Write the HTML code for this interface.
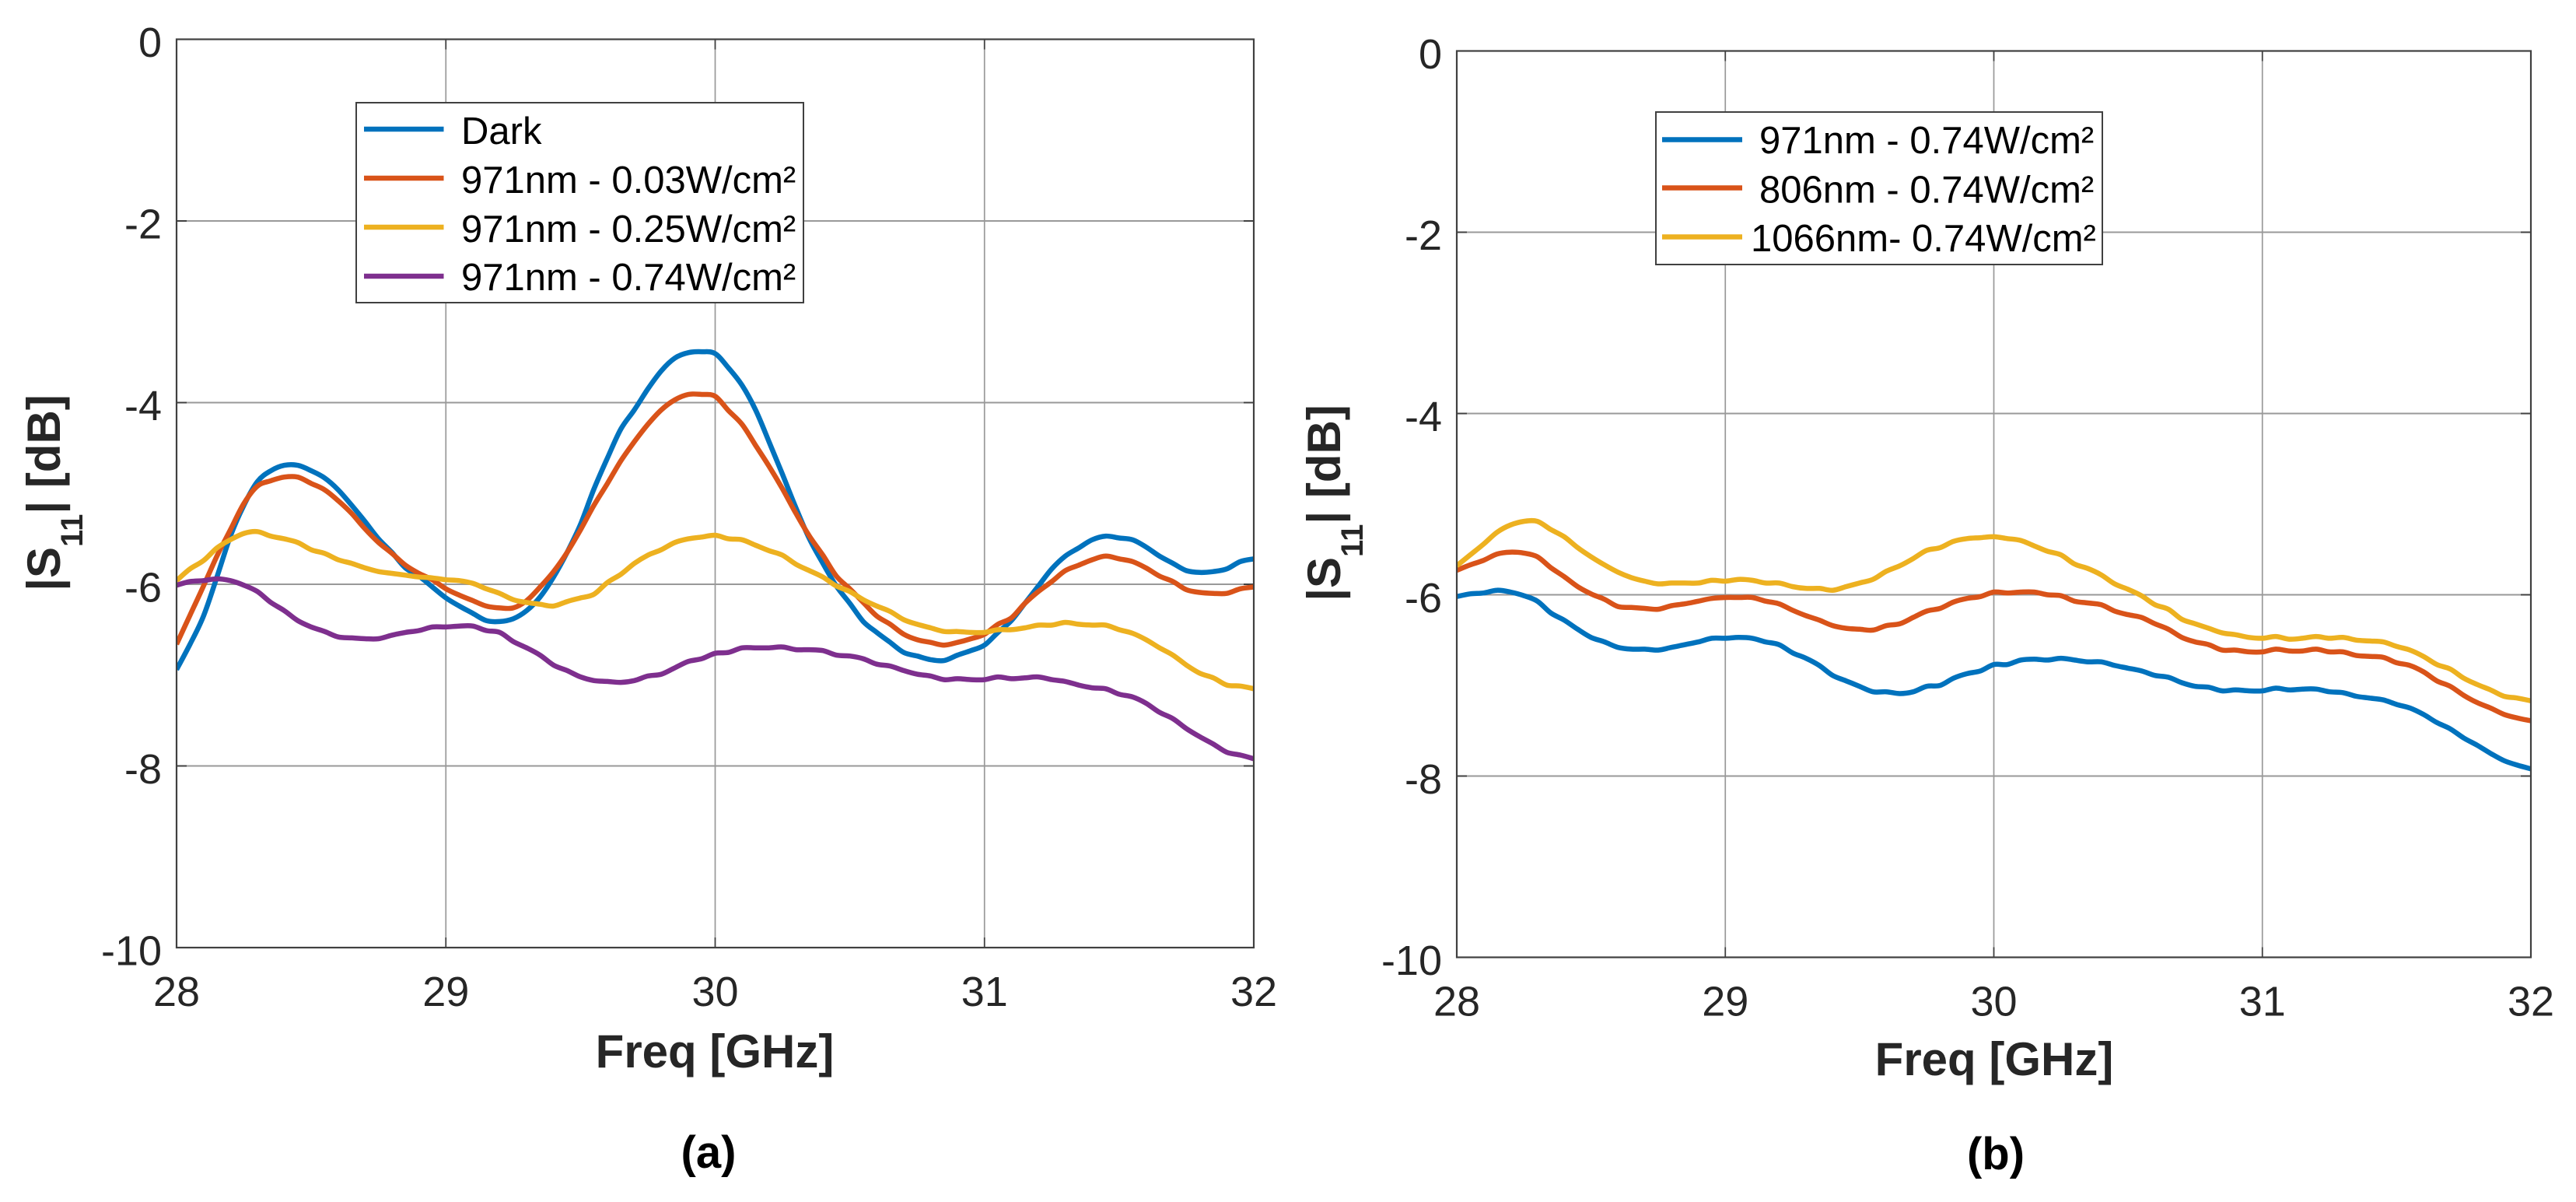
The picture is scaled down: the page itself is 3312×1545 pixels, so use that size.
<!DOCTYPE html>
<html lang="en">
<head>
<meta charset="utf-8">
<title>S11 versus frequency</title>
<style>
html,body{margin:0;padding:0;background:#fff;}
svg{display:block;}
text{font-family:"Liberation Sans",Arial,sans-serif;}
.tick{font-size:54px;fill:#262626;}
.axis-title{font-size:60px;font-weight:bold;fill:#262626;}
.legend-text{font-size:49px;fill:#000;}
.panel-label{font-size:58px;font-weight:bold;fill:#000;}
</style>
</head>
<body>
<svg id="figure" xmlns="http://www.w3.org/2000/svg" width="3312" height="1545" viewBox="0 0 3312 1545">
  <rect x="0" y="0" width="3312" height="1545" fill="#ffffff"/>
  <defs>
    <clipPath id="clip-a"><rect x="227" y="50.5" width="1385" height="1167.5"/></clipPath>
    <clipPath id="clip-b"><rect x="1873" y="65.5" width="1381" height="1165"/></clipPath>
  </defs>
  <g id="panel-a"></g>
  <g id="panel-b"></g>

  <g>
    <text class="axis-title" x="919" y="1372" text-anchor="middle">Freq [GHz]</text>
    <text class="axis-title" transform="translate(77,633.5) rotate(-90)" text-anchor="middle">|S<tspan font-size="40" dy="29">11</tspan><tspan dy="-29">| [dB]</tspan></text>
    <text class="panel-label" x="911" y="1501" text-anchor="middle">(a)</text>
  </g>
  <g>
    <rect x="458" y="132" width="575" height="257" fill="#ffffff" stroke="#404040" stroke-width="2"/>
    <line x1="468" x2="570.5" y1="166" y2="166" stroke="#0072BD" stroke-width="6.5"/>
    <text class="legend-text" x="593" y="185">Dark</text>
    <line x1="468" x2="570.5" y1="229" y2="229" stroke="#D95319" stroke-width="6.5"/>
    <text class="legend-text" x="593" y="248">971nm - 0.03W/cm²</text>
    <line x1="468" x2="570.5" y1="292" y2="292" stroke="#EDB120" stroke-width="6.5"/>
    <text class="legend-text" x="593" y="311">971nm - 0.25W/cm²</text>
    <line x1="468" x2="570.5" y1="355" y2="355" stroke="#7E2F8E" stroke-width="6.5"/>
    <text class="legend-text" x="593" y="373">971nm - 0.74W/cm²</text>
  </g>

  <g>
    <text class="axis-title" x="2564" y="1382" text-anchor="middle">Freq [GHz]</text>
    <text class="axis-title" transform="translate(1723,646.5) rotate(-90)" text-anchor="middle">|S<tspan font-size="40" dy="29">11</tspan><tspan dy="-29">| [dB]</tspan></text>
    <text class="panel-label" x="2566" y="1503" text-anchor="middle">(b)</text>
  </g>
  <g>
    <rect x="2129" y="144" width="574" height="196" fill="#ffffff" stroke="#404040" stroke-width="2"/>
    <line x1="2137" x2="2240" y1="179.5" y2="179.5" stroke="#0072BD" stroke-width="6.5"/>
    <text class="legend-text" x="2262" y="197">971nm - 0.74W/cm²</text>
    <line x1="2137" x2="2240" y1="241.5" y2="241.5" stroke="#D95319" stroke-width="6.5"/>
    <text class="legend-text" x="2262" y="260.5">806nm - 0.74W/cm²</text>
    <line x1="2137" x2="2240" y1="304.5" y2="304.5" stroke="#EDB120" stroke-width="6.5"/>
    <text class="legend-text" x="2251" y="323">1066nm- 0.74W/cm²</text>
  </g>
</svg>
<script>
const freqGHz = [
  28.00,28.05,28.10,28.15,28.20,28.25,28.30,28.35,28.40,28.45,
  28.50,28.55,28.60,28.65,28.70,28.75,28.80,28.85,28.90,28.95,
  29.00,29.05,29.10,29.15,29.20,29.25,29.30,29.35,29.40,29.45,
  29.50,29.55,29.60,29.65,29.70,29.75,29.80,29.85,29.90,29.95,
  30.00,30.05,30.10,30.15,30.20,30.25,30.30,30.35,30.40,30.45,
  30.50,30.55,30.60,30.65,30.70,30.75,30.80,30.85,30.90,30.95,
  31.00,31.05,31.10,31.15,31.20,31.25,31.30,31.35,31.40,31.45,
  31.50,31.55,31.60,31.65,31.70,31.75,31.80,31.85,31.90,31.95,
  32.00];
const xTickValues = [28, 29, 30, 31, 32];
const xTickLabels = ["28", "29", "30", "31", "32"];
const yTickValues = [0, -2, -4, -6, -8, -10];
const yTickLabels = ["0", "-2", "-4", "-6", "-8", "-10"];

const darkA = [
  -6.94,-6.66,-6.35,-5.92,-5.47,-5.13,-4.87,-4.75,-4.69,-4.69,
  -4.75,-4.83,-4.96,-5.13,-5.31,-5.50,-5.65,-5.82,-5.91,-6.03,
  -6.15,-6.24,-6.32,-6.40,-6.41,-6.38,-6.29,-6.14,-5.92,-5.65,
  -5.34,-4.95,-4.61,-4.29,-4.08,-3.85,-3.65,-3.51,-3.45,-3.44,
  -3.46,-3.62,-3.81,-4.08,-4.43,-4.79,-5.16,-5.50,-5.77,-6.02,
  -6.21,-6.41,-6.53,-6.64,-6.75,-6.79,-6.83,-6.84,-6.78,-6.73,
  -6.67,-6.53,-6.40,-6.21,-6.02,-5.83,-5.69,-5.60,-5.51,-5.47,
  -5.49,-5.51,-5.59,-5.69,-5.77,-5.85,-5.87,-5.86,-5.83,-5.75,
  -5.72];
const w003A = [
  -6.66,-6.34,-6.02,-5.69,-5.40,-5.11,-4.92,-4.86,-4.82,-4.82,
  -4.89,-4.96,-5.08,-5.22,-5.39,-5.54,-5.66,-5.79,-5.88,-5.95,
  -6.05,-6.12,-6.18,-6.24,-6.26,-6.26,-6.18,-6.03,-5.86,-5.65,
  -5.40,-5.13,-4.89,-4.64,-4.43,-4.24,-4.08,-3.97,-3.91,-3.91,
  -3.93,-4.09,-4.24,-4.47,-4.70,-4.95,-5.22,-5.47,-5.68,-5.91,
  -6.05,-6.20,-6.35,-6.44,-6.55,-6.61,-6.64,-6.67,-6.64,-6.60,
  -6.55,-6.44,-6.37,-6.21,-6.08,-5.97,-5.85,-5.79,-5.73,-5.69,
  -5.72,-5.75,-5.82,-5.91,-5.97,-6.06,-6.09,-6.10,-6.10,-6.05,
  -6.03];
const w025A = [
  -5.96,-5.83,-5.74,-5.60,-5.51,-5.44,-5.42,-5.47,-5.50,-5.54,
  -5.62,-5.66,-5.73,-5.77,-5.82,-5.86,-5.88,-5.90,-5.92,-5.93,
  -5.95,-5.96,-5.99,-6.05,-6.10,-6.17,-6.20,-6.22,-6.24,-6.19,
  -6.15,-6.11,-5.98,-5.89,-5.77,-5.68,-5.62,-5.54,-5.50,-5.48,
  -5.46,-5.50,-5.51,-5.57,-5.63,-5.68,-5.78,-5.85,-5.92,-6.02,
  -6.08,-6.17,-6.24,-6.30,-6.39,-6.44,-6.48,-6.52,-6.52,-6.53,
  -6.53,-6.50,-6.50,-6.48,-6.45,-6.45,-6.42,-6.44,-6.45,-6.45,
  -6.50,-6.54,-6.61,-6.70,-6.78,-6.89,-6.98,-7.03,-7.11,-7.12,
  -7.15];
const w074A = [
  -6.01,-5.97,-5.96,-5.94,-5.96,-6.01,-6.08,-6.20,-6.29,-6.40,
  -6.47,-6.52,-6.58,-6.59,-6.60,-6.60,-6.56,-6.53,-6.51,-6.47,
  -6.47,-6.46,-6.46,-6.51,-6.53,-6.63,-6.70,-6.78,-6.89,-6.95,
  -7.02,-7.06,-7.07,-7.08,-7.06,-7.01,-6.99,-6.92,-6.85,-6.82,
  -6.76,-6.75,-6.70,-6.70,-6.70,-6.69,-6.72,-6.72,-6.73,-6.78,
  -6.79,-6.82,-6.88,-6.90,-6.95,-6.99,-7.01,-7.05,-7.04,-7.05,
  -7.05,-7.02,-7.04,-7.03,-7.02,-7.05,-7.07,-7.11,-7.14,-7.15,
  -7.21,-7.24,-7.31,-7.41,-7.48,-7.59,-7.68,-7.76,-7.85,-7.88,
  -7.92];

const nm971B = [
  -6.02,-5.99,-5.98,-5.95,-5.97,-6.01,-6.07,-6.20,-6.28,-6.38,
  -6.47,-6.52,-6.58,-6.60,-6.60,-6.61,-6.58,-6.55,-6.52,-6.48,
  -6.48,-6.47,-6.48,-6.52,-6.55,-6.64,-6.70,-6.78,-6.89,-6.95,
  -7.01,-7.07,-7.07,-7.09,-7.07,-7.01,-7.00,-6.92,-6.87,-6.84,
  -6.77,-6.77,-6.72,-6.71,-6.72,-6.70,-6.72,-6.74,-6.74,-6.78,
  -6.81,-6.84,-6.89,-6.91,-6.97,-7.01,-7.02,-7.06,-7.05,-7.06,
  -7.06,-7.03,-7.05,-7.04,-7.04,-7.07,-7.08,-7.12,-7.14,-7.16,
  -7.21,-7.25,-7.32,-7.41,-7.48,-7.58,-7.66,-7.75,-7.83,-7.88,
  -7.92];
const nm806B = [
  -5.73,-5.67,-5.62,-5.55,-5.53,-5.54,-5.58,-5.70,-5.80,-5.91,
  -5.99,-6.05,-6.13,-6.14,-6.15,-6.16,-6.12,-6.10,-6.07,-6.04,
  -6.03,-6.03,-6.03,-6.07,-6.10,-6.17,-6.23,-6.28,-6.34,-6.37,
  -6.38,-6.39,-6.34,-6.32,-6.25,-6.18,-6.15,-6.08,-6.04,-6.02,
  -5.97,-5.98,-5.97,-5.97,-6.00,-6.01,-6.07,-6.09,-6.11,-6.18,
  -6.22,-6.25,-6.32,-6.38,-6.47,-6.52,-6.55,-6.61,-6.61,-6.63,
  -6.63,-6.60,-6.62,-6.62,-6.60,-6.63,-6.63,-6.67,-6.68,-6.69,
  -6.75,-6.78,-6.85,-6.95,-7.01,-7.11,-7.19,-7.25,-7.32,-7.36,
  -7.39];
const nm1066B = [
  -5.68,-5.56,-5.44,-5.31,-5.23,-5.19,-5.19,-5.28,-5.36,-5.48,
  -5.58,-5.67,-5.75,-5.81,-5.85,-5.88,-5.87,-5.87,-5.87,-5.84,
  -5.85,-5.83,-5.84,-5.87,-5.87,-5.91,-5.93,-5.93,-5.95,-5.91,
  -5.87,-5.83,-5.74,-5.68,-5.60,-5.51,-5.48,-5.41,-5.38,-5.37,
  -5.36,-5.38,-5.40,-5.46,-5.52,-5.56,-5.66,-5.71,-5.78,-5.88,
  -5.94,-6.01,-6.11,-6.16,-6.27,-6.32,-6.37,-6.42,-6.44,-6.47,
  -6.48,-6.46,-6.49,-6.48,-6.46,-6.48,-6.47,-6.50,-6.51,-6.52,
  -6.57,-6.61,-6.68,-6.77,-6.82,-6.92,-6.99,-7.05,-7.12,-7.14,
  -7.17];

const SVGNS = "http://www.w3.org/2000/svg";

function scaleX(frame, ghz) {
  return frame.left + (ghz - 28) / (32 - 28) * (frame.right - frame.left);
}
function scaleY(frame, db) {
  return frame.top + (0 - db) / (0 - -10) * (frame.bottom - frame.top);
}
function svgEl(tag, attrs) {
  const el = document.createElementNS(SVGNS, tag);
  for (const k in attrs) el.setAttribute(k, attrs[k]);
  return el;
}
function smoothPath(pts) {
  let d = "M" + pts[0][0].toFixed(1) + " " + pts[0][1].toFixed(1);
  for (let i = 0; i < pts.length - 1; i++) {
    const p0 = pts[Math.max(i - 1, 0)];
    const p1 = pts[i];
    const p2 = pts[i + 1];
    const p3 = pts[Math.min(i + 2, pts.length - 1)];
    const c1x = p1[0] + (p2[0] - p0[0]) / 6;
    const c1y = p1[1] + (p2[1] - p0[1]) / 6;
    const c2x = p2[0] - (p3[0] - p1[0]) / 6;
    const c2y = p2[1] - (p3[1] - p1[1]) / 6;
    d += "C" + c1x.toFixed(1) + " " + c1y.toFixed(1) + " " + c2x.toFixed(1) + " " + c2y.toFixed(1) + " " + p2[0].toFixed(1) + " " + p2[1].toFixed(1);
  }
  return d;
}

function drawPanel(groupId, frame, clipId, seriesList) {
  const g = document.getElementById(groupId);

  yTickValues.forEach(function (v, i) {
    const y = scaleY(frame, v);
    if (v !== 0 && v !== -10) {
      const grid = svgEl("line", { x1: frame.left, x2: frame.right, y1: y, y2: y, stroke: "#999999", "stroke-width": 2 });
      
      
      g.appendChild(grid);
      const t1 = svgEl("line", { x1: frame.left, x2: frame.left + 13, y1: y, y2: y, stroke: "#404040", "stroke-width": 2 });
      
      
      g.appendChild(t1);
      const t2 = svgEl("line", { x1: frame.right - 13, x2: frame.right, y1: y, y2: y, stroke: "#404040", "stroke-width": 2 });
      
      
      g.appendChild(t2);
    }
    const label = svgEl("text", { class: "tick", x: frame.left - 19, y: y + 22.5, "text-anchor": "end" });
    
    
    label.textContent = yTickLabels[i];
    g.appendChild(label);
  });

  xTickValues.forEach(function (v, i) {
    const x = scaleX(frame, v);
    if (v !== 28 && v !== 32) {
      const grid = svgEl("line", { x1: x, x2: x, y1: frame.top, y2: frame.bottom, stroke: "#999999", "stroke-width": 1.7 });
      
      
      g.appendChild(grid);
      const t1 = svgEl("line", { x1: x, x2: x, y1: frame.bottom - 13, y2: frame.bottom, stroke: "#404040", "stroke-width": 1.7 });
      
      
      g.appendChild(t1);
      const t2 = svgEl("line", { x1: x, x2: x, y1: frame.top, y2: frame.top + 13, stroke: "#404040", "stroke-width": 1.7 });
      
      
      g.appendChild(t2);
    }
    const label = svgEl("text", { class: "tick", x: x, y: frame.bottom + 75, "text-anchor": "middle" });
    
    
    label.textContent = xTickLabels[i];
    g.appendChild(label);
  });

  seriesList.forEach(function (s) {
    const pts = s.values.map(function (v, i) {
      return [scaleX(frame, freqGHz[i]), scaleY(frame, v)];
    });
    const line = svgEl("path", {
      d: smoothPath(pts), fill: "none", stroke: s.color, "stroke-width": 6.5,
      "stroke-linejoin": "round", "clip-path": "url(#" + clipId + ")"
    });
    
    
    g.appendChild(line);
  });

  const box = svgEl("rect", {
    x: frame.left, y: frame.top, width: frame.right - frame.left, height: frame.bottom - frame.top,
    fill: "none", stroke: "#404040", "stroke-width": 2.2
  });
  
  
  g.appendChild(box);
}

drawPanel("panel-a", { left: 227, right: 1612, top: 50.5, bottom: 1218 }, "clip-a", [
  { name: "series-dark", color: "#0072BD", values: darkA },
  { name: "series-971nm-003", color: "#D95319", values: w003A },
  { name: "series-971nm-025", color: "#EDB120", values: w025A },
  { name: "series-971nm-074", color: "#7E2F8E", values: w074A }
]);
drawPanel("panel-b", { left: 1873, right: 3254, top: 65.5, bottom: 1230.5 }, "clip-b", [
  { name: "series-971nm-074-b", color: "#0072BD", values: nm971B },
  { name: "series-806nm-074", color: "#D95319", values: nm806B },
  { name: "series-1066nm-074", color: "#EDB120", values: nm1066B }
]);
</script>
</body>
</html>
